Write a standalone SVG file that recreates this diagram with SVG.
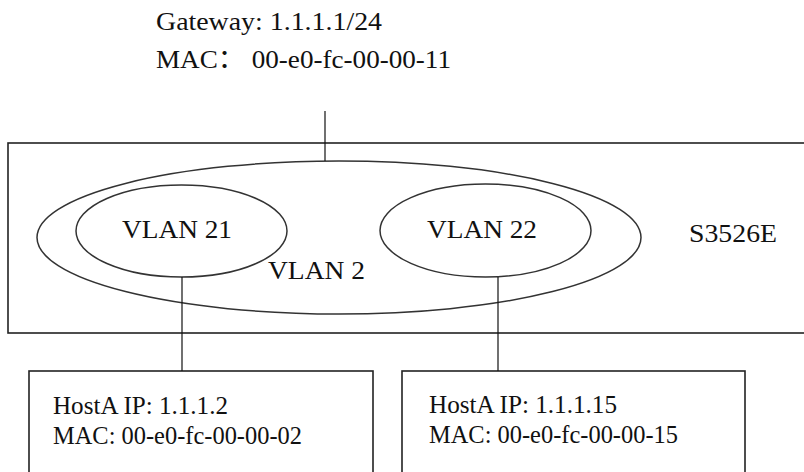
<svg xmlns="http://www.w3.org/2000/svg" width="804" height="472" viewBox="0 0 804 472">
<style>
text{font-family:"Liberation Serif","Times New Roman","DejaVu Serif","Noto Sans CJK SC",serif;font-size:26px;fill:#111}
.box{fill:none;stroke:#222;stroke-width:1.6}
.ell{fill:none;stroke:#333;stroke-width:1.5}
.ln{stroke:#111;stroke-width:1.2;fill:none}
</style>
<rect width="804" height="472" fill="#fff"/>
<g id="gateway">
<text x="156" y="30" textLength="226" lengthAdjust="spacingAndGlyphs">Gateway: 1.1.1.1/24</text>
<text x="156" y="68" textLength="295" lengthAdjust="spacingAndGlyphs">MAC：  00-e0-fc-00-00-11</text>
</g>
<g id="switch">
<rect class="box" x="8" y="143" width="810" height="190" stroke-width="2"/>
<text x="689" y="242" textLength="88" lengthAdjust="spacingAndGlyphs">S3526E</text>
</g>
<g id="vlan2">
<ellipse class="ell" cx="339" cy="237.5" rx="302" ry="76.5"/>
<text x="268" y="279" textLength="97" lengthAdjust="spacingAndGlyphs">VLAN 2</text>
</g>
<g id="vlan21">
<ellipse class="ell" cx="181.5" cy="231" rx="105.5" ry="46"/>
<text x="122" y="238" textLength="110" lengthAdjust="spacingAndGlyphs">VLAN 21</text>
</g>
<g id="vlan22">
<ellipse class="ell" cx="485.5" cy="230.5" rx="105.5" ry="46.5"/>
<text x="427" y="238" textLength="110" lengthAdjust="spacingAndGlyphs">VLAN 22</text>
</g>
<g id="hostA1">
<rect class="box" x="29" y="371" width="344" height="120"/>
<text x="53" y="414" textLength="175" lengthAdjust="spacingAndGlyphs">HostA IP: 1.1.1.2</text>
<text x="53" y="444" textLength="249" lengthAdjust="spacingAndGlyphs">MAC: 00-e0-fc-00-00-02</text>
</g>
<g id="hostA2">
<rect class="box" x="402" y="371" width="343" height="120"/>
<text x="429" y="413" textLength="188" lengthAdjust="spacingAndGlyphs">HostA IP: 1.1.1.15</text>
<text x="429" y="443" textLength="249" lengthAdjust="spacingAndGlyphs">MAC: 00-e0-fc-00-00-15</text>
</g>
<g id="connectors">
<line class="ln" x1="325" y1="111" x2="325" y2="161"/>
<line class="ln" x1="182" y1="277" x2="182" y2="371"/>
<line class="ln" x1="498" y1="277" x2="498" y2="371"/>
</g>
</svg>
